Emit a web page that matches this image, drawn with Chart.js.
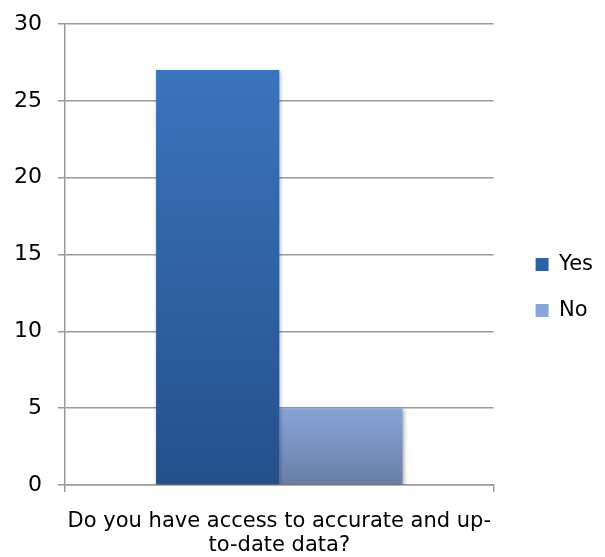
<!DOCTYPE html>
<html>
<head>
<meta charset="utf-8">
<script src="https://cdn.jsdelivr.net/npm/chart.js@4"></script>
<style>
  html, body { margin: 0; padding: 0; background: #fff; }
  #wrap { width: 605px; height: 557px; }
</style>
</head>
<body>
<div id="wrap"><canvas id="chart" width="605" height="557"></canvas></div>
<script>
const categories = [["Do you have access to accurate and up-", "to-date data?"]];
const yesValues = [27];
const noValues = [5];
const seriesNames = ["Yes", "No"];

const FONT = "'DejaVu Sans', sans-serif";

// vertical gradient from the bar's value down to the baseline
function grad(values, top, bottom) {
  return function (context) {
    const chart = context.chart;
    const area = chart.chartArea;
    if (!area || !chart.scales.y) return top;
    const v = values[context.dataIndex || 0];
    const y0 = chart.scales.y.getPixelForValue(v);
    const g = chart.ctx.createLinearGradient(0, y0, 0, area.bottom);
    g.addColorStop(0, top);
    g.addColorStop(1, bottom);
    return g;
  };
}

// legend sits further right than chart.js would put it
const legendExtra = 17;
const legendMoveX = 17;
const legendMoveY = -3;
const legendShift = {
  id: "legendShift",
  beforeUpdate(chart) {
    const lg = chart.legend;
    if (!lg || lg._shifted) return;
    lg._shifted = true;
    const fit = lg.fit.bind(lg);
    lg.fit = function () {
      fit();
      this.width += legendExtra;
    };
    const draw = lg.draw.bind(lg);
    lg.draw = function () {
      const c = this.ctx;
      c.save();
      c.translate(legendMoveX, legendMoveY);
      draw();
      c.restore();
    };
  },
};

// soft shadow under the bars
const barShadow = {
  id: "barShadow",
  beforeDatasetsDraw(chart) {
    const c = chart.ctx;
    c.save();
    c.shadowColor = "rgba(0,0,0,0.35)";
    c.shadowBlur = 4;
    c.shadowOffsetX = 1;
    c.shadowOffsetY = 2;
  },
  afterDatasetsDraw(chart) {
    chart.ctx.restore();
  },
};

const ctx = document.getElementById("chart").getContext("2d");
new Chart(ctx, {
  type: "bar",
  data: {
    labels: categories,
    datasets: [
      {
        label: seriesNames[0],
        data: yesValues,
        backgroundColor: grad(yesValues, "#3b74bd", "#24508a"),
      },
      {
        label: seriesNames[1],
        data: noValues,
        backgroundColor: grad(noValues, "#88a4d8", "#687ea6"),
      },
    ],
  },
  plugins: [legendShift, barShadow],
  options: {
    responsive: false,
    animation: false,
    layout: { padding: { top: 24, right: 2, left: 13, bottom: 0 } },
    datasets: {
      bar: { barPercentage: 1, categoryPercentage: 0.575 },
    },
    scales: {
      x: {
        afterFit(scale) {
          scale.height = 72;
          scale.paddingLeft = 0;
          scale.paddingRight = 0;
        },
        grid: {
          offset: true,
          drawOnChartArea: false,
          color: "#999",
          lineWidth: 1.5,
          tickLength: 7,
        },
        border: { color: "#999", width: 1.5 },
        ticks: {
          color: "#000",
          font: { family: FONT, size: 21, lineHeight: 1.143 },
          padding: 18,
          maxRotation: 0,
          minRotation: 0,
          autoSkip: false,
        },
      },
      y: {
        min: 0,
        max: 30,
        afterFit(scale) {
          scale.width = 52;
          scale.paddingTop = 0;
          scale.paddingBottom = 0;
        },
        ticks: {
          stepSize: 5,
          color: "#000",
          font: { family: FONT, size: 22 },
          padding: 16,
        },
        grid: { color: "#999", lineWidth: 1.5, tickLength: 7 },
        border: { color: "#999", width: 1.5 },
      },
    },
    plugins: {
      legend: {
        position: "right",
        labels: {
          color: "#000",
          font: { family: FONT, size: 21 },
          boxWidth: 13,
          boxHeight: 13,
          padding: 25,
        },
      },
      tooltip: { enabled: false },
    },
  },
});
</script>
</body>
</html>
